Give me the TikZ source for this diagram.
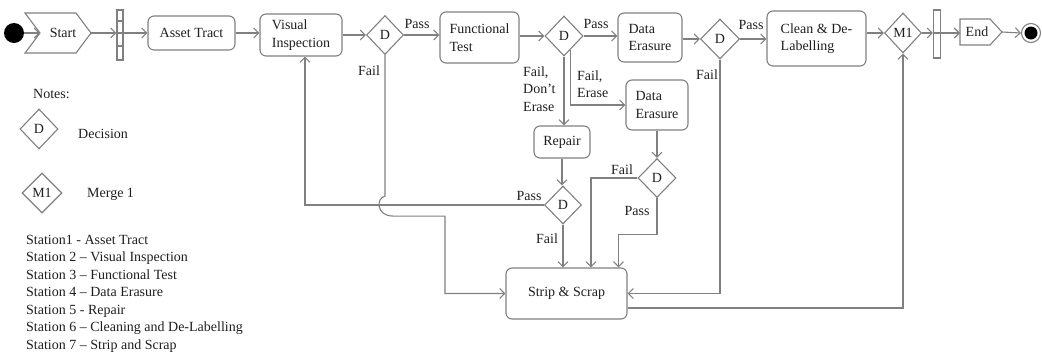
\documentclass[tikz,border=0pt]{standalone}
\usepackage{fontspec}
\setmainfont{Liberation Serif}
\usetikzlibrary{shapes.geometric,arrows.meta,calc}
\definecolor{ln}{RGB}{128,128,128}
\definecolor{tx}{RGB}{30,30,30}
\begin{document}
\begin{tikzpicture}[x=1pt,y=-1pt,
  font=\fontsize{14}{17.5}\selectfont,
  every node/.style={text=tx},
  box/.style={draw=ln, line width=1.1pt, rounded corners=6pt, inner sep=0pt, align=left},
  dec/.style={draw=ln, line width=1.1pt, diamond, inner sep=0pt, minimum width=37pt, minimum height=39pt},
  conn/.style={draw=ln, line width=1.1pt, -{Straight Barb[length=5pt,width=10pt]}},
  plain/.style={draw=ln, line width=1.1pt},
  lbl/.style={inner sep=0pt, align=left},
  note/.style={inner sep=0pt, anchor=base west}]
\useasboundingbox (0,0) rectangle (1042,354);

% ---------- top row ----------
\node[circle, fill=black, minimum size=20pt, inner sep=0pt] (init) at (14,33) {};
\draw[plain] (25,13) -- (76,13) -- (91,33) -- (76,53) -- (25,53) -- (40,33) -- cycle;
\node[inner sep=0pt] (start) at (63,33) {Start};
\coordinate (startnotch) at (40,33);
\coordinate (starttip) at (91,33);

\node[draw=ln, line width=1.1pt, minimum width=6pt, minimum height=50pt, inner sep=0pt] (bar1) at (120,35) {};
\draw[plain] (bar1.west |- 0,21) -- (bar1.east |- 0,21);
\draw[plain] (bar1.west |- 0,46) -- (bar1.east |- 0,46);

\node[box, minimum width=87pt, minimum height=34pt] (at) at (191.5,33) {Asset Tract};
\node[box, minimum width=82pt, minimum height=42pt] (vi) at (301,35) {Visual\\Inspection};
\node[dec] (d1) at (385,35) {D};
\node[box, minimum width=79pt, minimum height=51pt] (ft) at (479.5,37.5) {Functional\\Test};
\node[dec, minimum width=38pt, minimum height=40pt] (d2) at (564,36) {D};
\node[box, minimum width=64pt, minimum height=49pt] (de1) at (650,37.5) {Data\\Erasure};
\node[dec, minimum width=39pt, minimum height=40pt] (d3) at (720,39) {D};
\node[box, minimum width=99pt, minimum height=55pt] (cl) at (816.5,38.5) {Clean \& De-\\Labelling};
\node[dec, minimum height=40pt] (m1) at (903,33) {M1};
\node[draw=ln, line width=1.1pt, minimum width=7pt, minimum height=48pt, inner sep=0pt] (bar2) at (937,34) {};
\draw[plain] (960,19) -- (990,19) -- (1002,32) -- (990,45) -- (960,45) -- cycle;
\node[inner sep=0pt] (endn) at (977,32) {End};
\coordinate (endleft) at (960,33);
\coordinate (endtip) at (1002,32);
\node[circle, draw=ln, line width=1.1pt, minimum size=19pt, inner sep=0pt] (fin) at (1031,33) {};
\fill (fin.center) circle (6.5pt);

% ---------- lower part ----------
\node[box, minimum width=56pt, minimum height=32pt] (rep) at (562,142) {Repair};
\node[dec, minimum height=38pt] (d4) at (563,205) {D};
\node[box, minimum width=62pt, minimum height=50pt] (de2) at (657,105) {Data\\Erasure};
\node[dec, minimum width=38pt, minimum height=39pt] (d5) at (657,178) {D};
\node[box, minimum width=121pt, minimum height=51pt] (ss) at (566.5,293.5) {Strip \& Scrap};

% ---------- top connectors ----------
\draw[conn] (init.east) -- (startnotch);
\draw[conn] (starttip) -- (bar1.west |- starttip);
\draw[plain] (bar1.west |- starttip) -- (bar1.east |- starttip);
\draw[conn] (bar1.east |- starttip) -- (at.west |- starttip);
\draw[conn] (at.east) -- (vi.west |- at.east);
\draw[conn] (vi.east |- d1.west) -- (d1.west);
\draw[conn] (d1.east) -- (d1.east -| ft.west);
\draw[conn] (ft.east |- d2.west) -- (d2.west);
\draw[conn] (d2.east) -- (d2.east -| de1.west);
\draw[conn] (de1.east |- d3.west) -- (d3.west);
\draw[conn] (d3.east) -- (d3.east -| cl.west);
\draw[conn] (cl.east |- m1.west) -- (m1.west);
\draw[conn] (m1.east) -- (bar2.west |- m1.east);
\draw[plain] (bar2.west |- m1.east) -- (bar2.east |- m1.east);
\draw[conn] (bar2.east |- m1.east) -- (endleft);
\draw[conn] (endtip) -- (fin.west);

\node[lbl] (p1) at (417,24) {Pass};
\node[lbl] (p2) at (596,24) {Pass};
\node[lbl] (p3) at (751,25) {Pass};

% ---------- lower connectors ----------
% D1 fail with a hop
\draw[conn] (d1.south) -- ++(0,141) .. controls +(-9,2) and +(-17,0) .. ++(8,20) -- ++(52,0) |- (ss.west);
\node[lbl] (f1) at (369,71) {Fail};

% D2 fail don't erase
\draw[conn] (d2.south) -- (d2.south |- rep.north);
\node[lbl, anchor=west] (f2) at (523,89) {Fail,\\Don't\\Erase};
% D2 fail erase
\coordinate (d2e) at ($(d2.south)!0.33!(d2.east)$);
\draw[conn] (d2e) |- (de2.west);
\node[lbl, anchor=west] (f3) at (577,84) {Fail,\\Erase};

\draw[conn] (rep.south) -- (rep.south |- d4.north);
\draw[conn] (d4.west) -| ([xshift=4pt]vi.south);
\node[lbl] (p4) at (529,196) {Pass};
\draw[conn] (d4.south) -- (d4.south |- ss.north);
\node[lbl] (f4) at (547,239) {Fail};

\draw[conn] (de2.south) -- (d5.north);
\draw[conn] (d5.west) -| ($(ss.north)+(24.5,0)$);
\node[lbl] (f5) at (622,170) {Fail};
\draw[conn] (d5.south) -- ++(0,36) -| ($(ss.north)+(52,0)$);
\node[lbl] (p5) at (637,211) {Pass};

\draw[conn] (d3.south) |- (ss.east);
\node[lbl] (f6) at (707,75) {Fail};

\draw[conn] ($(ss.east)+(0,14.5)$) -| (m1.south);

% ---------- notes ----------
\node[note] (notes) at (33,98) {Notes:};
\node[dec, minimum width=38pt, minimum height=40pt] (nd) at (39,129) {D};
\node[note] (ndt) at (78,138) {Decision};
\node[dec, minimum width=40pt, minimum height=40pt] (nm) at (42,193) {M1};
\node[note] (nmt) at (87,197) {Merge 1};

\node[note] (s1) at (26,244) {Station1 - Asset Tract};
\node[note] (s2) at (26,261.5) {Station 2 – Visual Inspection};
\node[note] (s3) at (26,279) {Station 3 – Functional Test};
\node[note] (s4) at (26,296.5) {Station 4 – Data Erasure};
\node[note] (s5) at (26,314) {Station 5 - Repair};
\node[note] (s6) at (26,331.5) {Station 6 – Cleaning  and De-Labelling};
\node[note] (s7) at (26,349) {Station 7 – Strip and Scrap};
\end{tikzpicture}
\end{document}
